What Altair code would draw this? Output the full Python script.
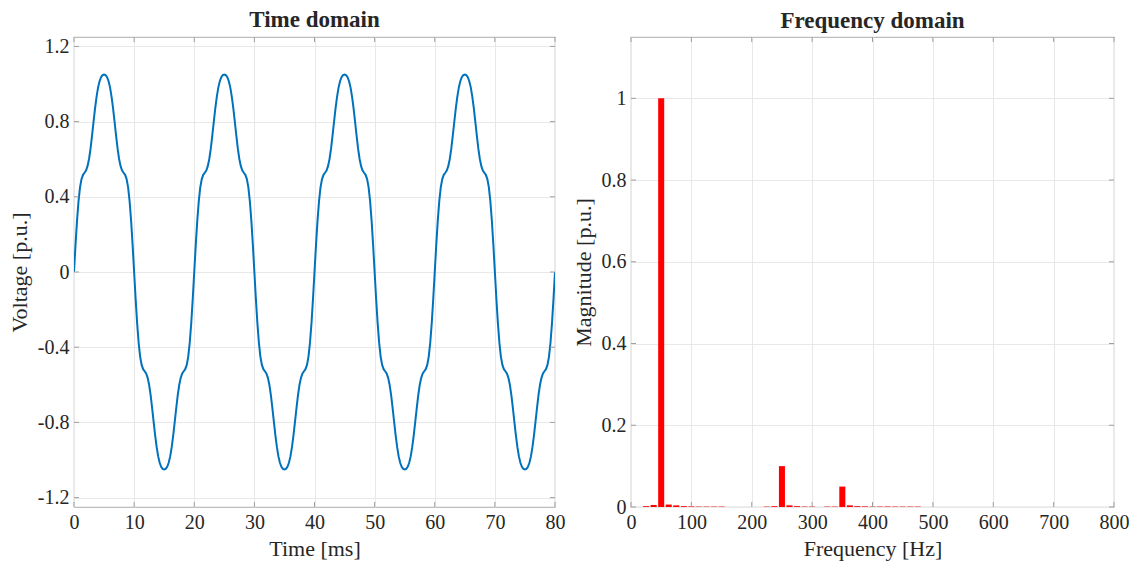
import altair as alt
import pandas as pd

# ---- time-domain samples (one value every 0.25 ms, 0 .. 80 ms) ----
time_step_ms = 0.25
voltage_pu = [
    # 0 - 20 ms
    0.000, 0.143, 0.272, 0.376, 0.450, 0.494, 0.517, 0.528, 0.540, 0.563, 0.601, 0.656, 0.725, 0.798, 0.870, 0.932, 0.981, 1.015, 1.036, 1.047,
    1.050, 1.047, 1.036, 1.015, 0.981, 0.932, 0.870, 0.798, 0.725, 0.656, 0.601, 0.563, 0.540, 0.528, 0.517, 0.494, 0.450, 0.376, 0.272, 0.143,
    0.000, -0.143, -0.272, -0.376, -0.450, -0.494, -0.517, -0.528, -0.540, -0.563, -0.601, -0.656, -0.725, -0.798, -0.870, -0.932, -0.981, -1.015, -1.036, -1.047,
    -1.050, -1.047, -1.036, -1.015, -0.981, -0.932, -0.870, -0.798, -0.725, -0.656, -0.601, -0.563, -0.540, -0.528, -0.517, -0.494, -0.450, -0.376, -0.272, -0.143,
    # 20 - 40 ms
    0.000, 0.143, 0.272, 0.376, 0.450, 0.494, 0.517, 0.528, 0.540, 0.563, 0.601, 0.656, 0.725, 0.798, 0.870, 0.932, 0.981, 1.015, 1.036, 1.047,
    1.050, 1.047, 1.036, 1.015, 0.981, 0.932, 0.870, 0.798, 0.725, 0.656, 0.601, 0.563, 0.540, 0.528, 0.517, 0.494, 0.450, 0.376, 0.272, 0.143,
    0.000, -0.143, -0.272, -0.376, -0.450, -0.494, -0.517, -0.528, -0.540, -0.563, -0.601, -0.656, -0.725, -0.798, -0.870, -0.932, -0.981, -1.015, -1.036, -1.047,
    -1.050, -1.047, -1.036, -1.015, -0.981, -0.932, -0.870, -0.798, -0.725, -0.656, -0.601, -0.563, -0.540, -0.528, -0.517, -0.494, -0.450, -0.376, -0.272, -0.143,
    # 40 - 60 ms
    0.000, 0.143, 0.272, 0.376, 0.450, 0.494, 0.517, 0.528, 0.540, 0.563, 0.601, 0.656, 0.725, 0.798, 0.870, 0.932, 0.981, 1.015, 1.036, 1.047,
    1.050, 1.047, 1.036, 1.015, 0.981, 0.932, 0.870, 0.798, 0.725, 0.656, 0.601, 0.563, 0.540, 0.528, 0.517, 0.494, 0.450, 0.376, 0.272, 0.143,
    0.000, -0.143, -0.272, -0.376, -0.450, -0.494, -0.517, -0.528, -0.540, -0.563, -0.601, -0.656, -0.725, -0.798, -0.870, -0.932, -0.981, -1.015, -1.036, -1.047,
    -1.050, -1.047, -1.036, -1.015, -0.981, -0.932, -0.870, -0.798, -0.725, -0.656, -0.601, -0.563, -0.540, -0.528, -0.517, -0.494, -0.450, -0.376, -0.272, -0.143,
    # 60 - 80 ms
    0.000, 0.143, 0.272, 0.376, 0.450, 0.494, 0.517, 0.528, 0.540, 0.563, 0.601, 0.656, 0.725, 0.798, 0.870, 0.932, 0.981, 1.015, 1.036, 1.047,
    1.050, 1.047, 1.036, 1.015, 0.981, 0.932, 0.870, 0.798, 0.725, 0.656, 0.601, 0.563, 0.540, 0.528, 0.517, 0.494, 0.450, 0.376, 0.272, 0.143,
    0.000, -0.143, -0.272, -0.376, -0.450, -0.494, -0.517, -0.528, -0.540, -0.563, -0.601, -0.656, -0.725, -0.798, -0.870, -0.932, -0.981, -1.015, -1.036, -1.047,
    -1.050, -1.047, -1.036, -1.015, -0.981, -0.932, -0.870, -0.798, -0.725, -0.656, -0.601, -0.563, -0.540, -0.528, -0.517, -0.494, -0.450, -0.376, -0.272, -0.143,
    0.000,
]
time_ms = [i * time_step_ms for i in range(len(voltage_pu))]

# ---- spectrum (12.5 Hz bins) ----
freq_hz = [25, 37.5, 50, 62.5, 75, 87.5, 100, 112.5, 125, 137.5, 150,
           225, 237.5, 250, 262.5, 275, 287.5, 300,
           325, 337.5, 350, 362.5, 375, 387.5, 400, 412.5, 425, 437.5, 450, 462.5, 475]
magnitude_pu = [0.002, 0.005, 1.0, 0.006, 0.004, 0.002, 0.0015, 0.001, 0.001, 0.001, 0.001,
                0.001, 0.002, 0.1, 0.004, 0.002, 0.001, 0.001,
                0.001, 0.001, 0.05, 0.004, 0.002, 0.0015, 0.001, 0.001, 0.001, 0.001, 0.001, 0.001, 0.001]
bar_half_width_hz = 5

# ---- axis ticks ----
time_ticks = [0, 10, 20, 30, 40, 50, 60, 70, 80]
volt_ticks = [-1.2, -0.8, -0.4, 0, 0.4, 0.8, 1.2]
freq_ticks = [0, 100, 200, 300, 400, 500, 600, 700, 800]
mag_ticks = [0, 0.2, 0.4, 0.6, 0.8, 1]

FONT = "'Times New Roman', 'Liberation Serif', Tinos, serif"
TEXT = "#262626"
FRAME = "#BDBDBD"
LINE_BLUE = "#0072BD"

W1, W2, H = 481, 483, 470
TICK_LEN = 5

label_expr = "replace(format(datum.value, '~g'), '\u2212', '-')"

# scales and axes shared by every layer of a panel
t_scale = alt.Scale(domain=[0, 80], nice=False, zero=False)
v_scale = alt.Scale(domain=[-1.25, 1.25], nice=False, zero=False)
f_scale = alt.Scale(domain=[0, 800], nice=False, zero=False)
m_scale = alt.Scale(domain=[0, 1.15], nice=False, zero=False)

t_axis = alt.Axis(title="Time [ms]", values=time_ticks, labelExpr=label_expr)
v_axis = alt.Axis(title="Voltage [p.u.]", values=volt_ticks, labelExpr=label_expr)
f_axis = alt.Axis(title="Frequency [Hz]", values=freq_ticks, labelExpr=label_expr)
m_axis = alt.Axis(title="Magnitude [p.u.]", values=mag_ticks, labelExpr=label_expr)


def inward_ticks(xvals, yvals, xfield, yfield, xscale, yscale, xaxis, yaxis, width, height):
    """Small inward tick marks on all four sides of a boxed panel."""
    xt = pd.DataFrame({xfield: xvals})
    yt = pd.DataFrame({yfield: yvals})
    base_x = alt.Chart(xt).mark_rule(color="#9E9E9E", strokeWidth=1)
    base_y = alt.Chart(yt).mark_rule(color="#9E9E9E", strokeWidth=1)
    xq = alt.X(f"{xfield}:Q", scale=xscale, axis=xaxis)
    yq = alt.Y(f"{yfield}:Q", scale=yscale, axis=yaxis)
    return [
        base_x.encode(x=xq, y=alt.value(height), y2=alt.value(height - TICK_LEN)),
        base_x.encode(x=xq, y=alt.value(0), y2=alt.value(TICK_LEN)),
        base_y.encode(y=yq, x=alt.value(0), x2=alt.value(TICK_LEN)),
        base_y.encode(y=yq, x=alt.value(width), x2=alt.value(width - TICK_LEN)),
    ]


# ---- left panel: waveform ----
wave_df = pd.DataFrame({"t": time_ms, "v": voltage_pu})
wave = alt.Chart(wave_df).mark_line(color=LINE_BLUE, strokeWidth=2, clip=True).encode(
    x=alt.X("t:Q", scale=t_scale, axis=t_axis),
    y=alt.Y("v:Q", scale=v_scale, axis=v_axis),
)
left = alt.layer(
    wave, *inward_ticks(time_ticks, volt_ticks, "t", "v", t_scale, v_scale, t_axis, v_axis, W1, H)
).properties(width=W1, height=H, title="Time domain")

# ---- right panel: spectrum ----
spec_df = pd.DataFrame({"f": freq_hz, "m": magnitude_pu})
bars = alt.Chart(spec_df).mark_bar(color="#FF0000", clip=True).transform_calculate(
    f_lo=f"datum.f - {bar_half_width_hz}", f_hi=f"datum.f + {bar_half_width_hz}", base="0"
).encode(
    x=alt.X("f_lo:Q", scale=f_scale, axis=f_axis),
    x2="f_hi:Q",
    y=alt.Y("m:Q", scale=m_scale, axis=m_axis),
    y2="base:Q",
)
right = alt.layer(
    bars, *inward_ticks(freq_ticks, mag_ticks, "f_lo", "m", f_scale, m_scale, f_axis, m_axis, W2, H)
).properties(width=W2, height=H, title="Frequency domain")

chart = alt.hconcat(left, right, spacing=76, bounds="flush").properties(
    padding={"left": 7, "top": 8, "right": 5, "bottom": 5}
).configure_view(
    stroke=FRAME, strokeWidth=1.2
).configure_axis(
    domain=False, ticks=False, grid=True, gridColor="#E8E8E8", gridWidth=1,
    labelFont=FONT, labelFontSize=20, labelColor=TEXT, labelPadding=5, labelFlush=False,
    titleFont=FONT, titleFontSize=22, titleFontWeight="normal", titleColor=TEXT,
    titlePadding=6,
).configure_title(
    font=FONT, fontSize=23, fontWeight="bold", color=TEXT, offset=4, anchor="middle"
)

chart.save("out.html", embed_options={"renderer": "svg", "actions": False})
